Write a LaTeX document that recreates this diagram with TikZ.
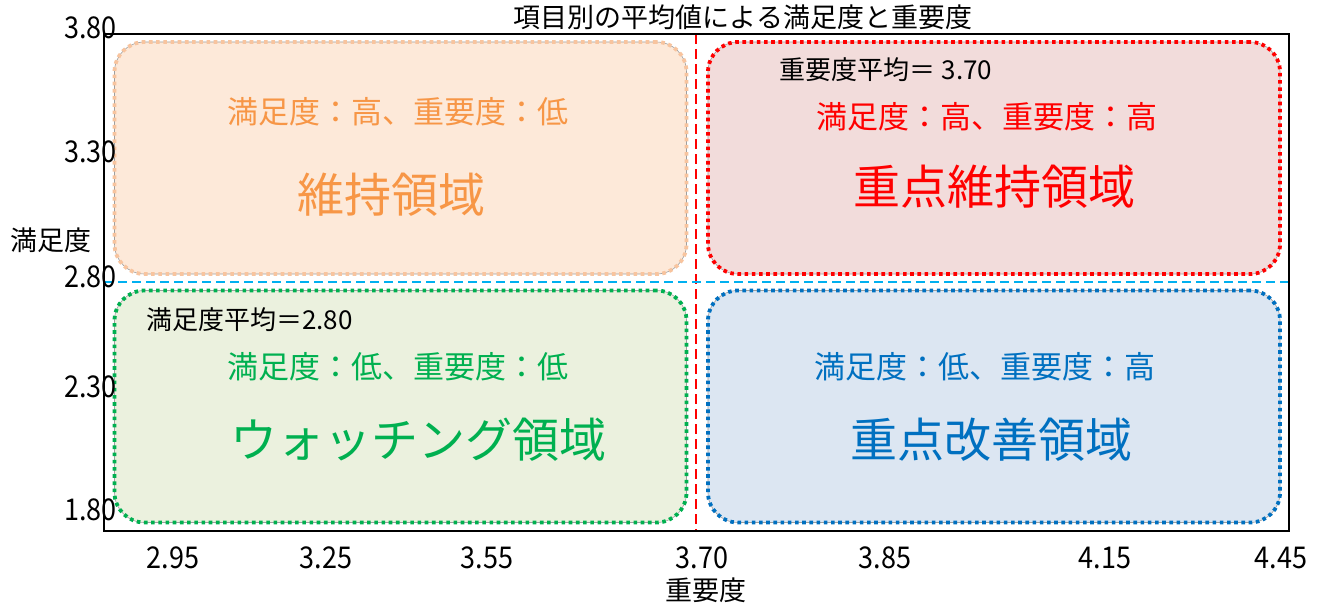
\documentclass[tikz,border=0pt]{standalone}
\usepackage{fontspec}
\setmainfont{Noto Sans CJK JP}
\newfontfamily\numfont[FakeStretch=0.9]{Noto Sans CJK JP}
\definecolor{oranT}{HTML}{F79646}
\definecolor{oranL}{HTML}{F8C49E}
\definecolor{oranF}{HTML}{FDE9D9}
\definecolor{redT}{HTML}{FF0000}
\definecolor{redF}{HTML}{F2DCDB}
\definecolor{grnT}{HTML}{00B050}
\definecolor{grnF}{HTML}{EBF1DE}
\definecolor{bluT}{HTML}{0070C0}
\definecolor{bluF}{HTML}{DCE6F2}
\definecolor{skyL}{HTML}{00B0F0}
\begin{document}
\begin{tikzpicture}[x=1pt,y=-1pt,
  qbox/.style 2 args={rectangle, rounded corners=30pt, minimum width=572pt, minimum height=232pt, inner sep=0pt,
     preaction={fill=#1}, preaction={draw=gray!75, line width=0.6pt, solid},
     draw=#2, line width=3.8pt, dash pattern=on 3.6pt off 3.6pt},
  tick/.style={font=\numfont\fontsize{30}{32}\selectfont, inner sep=0pt},
  axlab/.style={font=\fontsize{27}{30}\selectfont, inner sep=0pt},
  sub/.style={font=\fontsize{31}{34}\selectfont, inner sep=0pt},
  big/.style={font=\fontsize{47}{50}\selectfont, inner sep=0pt},
  avg/.style={font=\fontsize{26}{30}\selectfont, inner sep=0pt},
  meanline/.style={line width=2.4pt, dash pattern=on 10pt off 5pt}
]
\useasboundingbox (0,0) rectangle (1322,607);
\fill[white] (0,0) rectangle (1322,607);

% quadrant boxes
\node[qbox={oranF}{oranL}] (tl) at (400.5,158) {};
\node[qbox={redF}{redT}] (tr) at (994,158) {};
\node[qbox={grnF}{grnT}] (bl) at (400.5,406.5) {};
\node[qbox={bluF}{bluT}] (br) at (994,406.5) {};

% mean lines
\coordinate (vtop) at (696,34);
\coordinate (vbot) at (696,531);
\coordinate (hleft) at (104,282);
\coordinate (hright) at (1291,282);
\draw[meanline, draw=redT] (vtop) -- (vbot);
\draw[meanline, draw=skyL, dash pattern=on 9pt off 5pt] (hleft) -- (hright);

% frame
\draw[line width=1.8pt] (104,34) rectangle (1289,531);

% title
\node[axlab] (title) at (743,17) {項目別の平均値による満足度と重要度};

% y ticks
\node[tick, anchor=east] (y380) at (117,28) {3.80};
\node[tick, anchor=east] (y330) at (117,152) {3.30};
\node[tick, anchor=east] (y280) at (117,277) {2.80};
\node[tick, anchor=east] (y230) at (117,387) {2.30};
\node[tick, anchor=east] (y180) at (117,510) {1.80};
\node[axlab] (ylab) at (51,240) {満足度};

% x ticks
\node[tick] (x295) at (173,558) {2.95};
\node[tick] (x325) at (326,558) {3.25};
\node[tick] (x355) at (487,558) {3.55};
\node[tick] (x370) at (702,558) {3.70};
\node[tick] (x385) at (885,558) {3.85};
\node[tick] (x415) at (1105,558) {4.15};
\node[tick] (x445) at (1281,558) {4.45};
\node[axlab] (xlab) at (706,590) {重要度};

% box texts
\node[sub, text=oranT] (tls) at (398,112) {満足度：高、重要度：低};
\node[big, text=oranT] (tlb) at (391,195) {維持領域};

\node[avg] (tra) at (886,70) {重要度平均＝ 3.70};
\node[sub, text=redT] (trs) at (987,117) {満足度：高、重要度：高};
\node[big, text=redT] (trb) at (994,187) {重点維持領域};

\node[avg, anchor=west] (bla) at (146,320) {満足度平均＝2.80};
\node[sub, text=grnT] (bls) at (398,367) {満足度：低、重要度：低};
\node[big, text=grnT] (blb) at (418,440) {ウォッチング領域};

\node[sub, text=bluT] (brs) at (985,367) {満足度：低、重要度：高};
\node[big, text=bluT] (brb) at (991,440) {重点改善領域};
\end{tikzpicture}
\end{document}
